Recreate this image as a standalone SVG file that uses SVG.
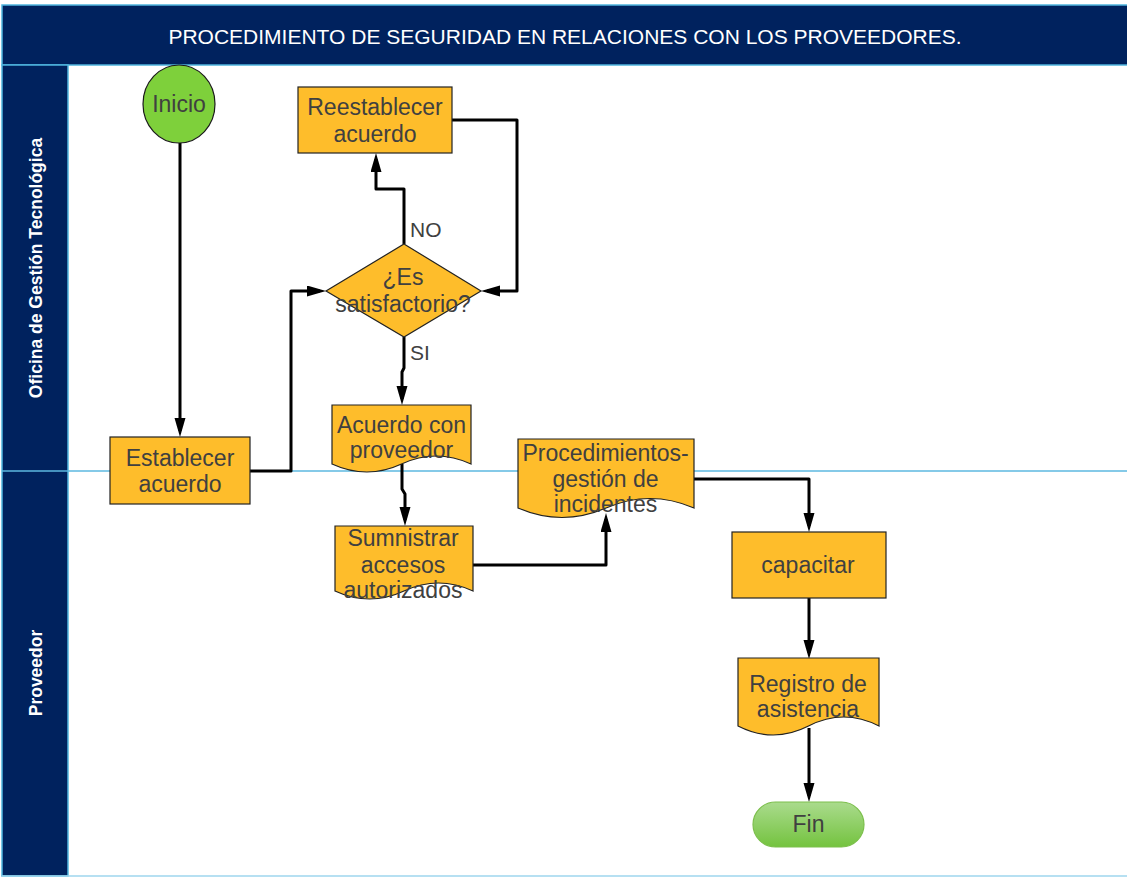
<svg xmlns="http://www.w3.org/2000/svg" width="1127" height="877" viewBox="0 0 1127 877">
  <style>
    .lane-head { fill: #00225E; stroke: #4FB5DE; stroke-width: 1.5; }
    .lane-label { fill: #FFFFFF; font-family: "Liberation Sans", Arial, sans-serif; font-weight: bold; font-size: 17.5px; text-anchor: middle; }
    .title { fill: #FFFFFF; font-family: "Liberation Sans", Arial, sans-serif; font-size: 21px; text-anchor: middle; }
    .proc { fill: #FEBD2B; stroke: #222222; stroke-width: 1.2; }
    .txt { fill: #404040; font-family: "Liberation Sans", Arial, sans-serif; font-size: 23px; text-anchor: middle; }
    .lbl { fill: #404040; font-family: "Liberation Sans", Arial, sans-serif; font-size: 21px; }
    .conn { fill: none; stroke: #000000; stroke-width: 3; stroke-linejoin: round; marker-end: url(#arrow); }
  </style>
  <defs>
    <marker id="arrow" markerUnits="userSpaceOnUse" markerWidth="20" markerHeight="12" refX="13" refY="5.5" orient="auto">
      <path d="M0,0 L19,5.5 L0,11 Z" fill="#000000"/>
    </marker>
    <linearGradient id="finGrad" x1="0" y1="0" x2="0" y2="1">
      <stop offset="0" stop-color="#AADB8D"/>
      <stop offset="1" stop-color="#74C33F"/>
    </linearGradient>
  </defs>

  <!-- pool frame, header and lanes -->
  <g id="pool">
    <rect x="0" y="0" width="1127" height="877" fill="#FFFFFF"/>
    <rect class="lane-head" x="2" y="5" width="1127" height="60"/>
    <text class="title" x="565" y="44">PROCEDIMIENTO DE SEGURIDAD EN RELACIONES CON LOS PROVEEDORES.</text>
    <rect class="lane-head" x="2" y="65" width="66" height="811"/>
    <line x1="2" y1="876" x2="1127" y2="876" stroke="#9ED6EE" stroke-width="1.5"/>
    <line x1="2" y1="471" x2="1127" y2="471" stroke="#5DB9E0" stroke-width="1.5"/>
    <text class="lane-label" transform="translate(42,268) rotate(-90)">Oficina de Gestión Tecnológica</text>
    <text class="lane-label" transform="translate(42,673) rotate(-90)">Proveedor</text>
  </g>

  <!-- connectors -->
  <g id="connectors">
    <path class="conn" d="M180,143 V431"/>
    <path class="conn" d="M250,471 H291 V291 H320"/>
    <path class="conn" d="M404,244 V189 H376 V159"/>
    <path class="conn" d="M452,120 H517 V291 H487"/>
    <path class="conn" d="M404,337 V368 L402,372 V399"/>
    <path class="conn" d="M402,464 V489 L405,494 V520"/>
    <path class="conn" d="M473,565 H606 V519"/>
    <path class="conn" d="M694,479 H809 V526"/>
    <path class="conn" d="M809,598 V653"/>
    <path class="conn" d="M809,728 V796"/>
    <text class="lbl" x="410" y="237">NO</text>
    <text class="lbl" x="410" y="360">SI</text>
  </g>

  <g id="inicio">
    <ellipse cx="179" cy="104" rx="36" ry="39" fill="#7ED03B" stroke="#1A1A1A" stroke-width="1.2"/>
    <text class="txt" x="179" y="112">Inicio</text>
  </g>

  <g id="reestablecer">
    <rect class="proc" x="298" y="87" width="154" height="66"/>
    <text class="txt" x="375" y="115">Reestablecer</text>
    <text class="txt" x="375" y="142">acuerdo</text>
  </g>

  <g id="decision">
    <polygon class="proc" points="404,244 481,291 404,337 326,291"/>
    <text class="txt" x="403" y="285">¿Es</text>
    <text class="txt" x="403" y="312">satisfactorio?</text>
  </g>

  <g id="establecer">
    <rect class="proc" x="110" y="437" width="140" height="67"/>
    <text class="txt" x="180" y="466">Establecer</text>
    <text class="txt" x="180" y="492">acuerdo</text>
  </g>

  <g id="acuerdo-proveedor">
    <path class="proc" d="M332,405 H471 V464 Q436,448 401.5,464 Q367,480 332,464 Z"/>
    <text class="txt" x="401.5" y="433">Acuerdo con</text>
    <text class="txt" x="401.5" y="458">proveedor</text>
  </g>

  <g id="sumnistrar">
    <path class="proc" d="M335,526 H473 V591 Q438.5,575 404,591 Q369.5,607 335,591 Z"/>
    <text class="txt" x="403" y="546">Sumnistrar</text>
    <text class="txt" x="403" y="573">accesos</text>
    <text class="txt" x="403" y="598">autorizados</text>
  </g>

  <g id="procedimientos">
    <path class="proc" d="M518,439 H694 V508 Q650,489 606,508 Q562,527 518,508 Z"/>
    <text class="txt" x="605.5" y="461">Procedimientos-</text>
    <text class="txt" x="605.5" y="487">gestión de</text>
    <text class="txt" x="605.5" y="512">incidentes</text>
  </g>

  <g id="capacitar">
    <rect class="proc" x="732" y="532" width="154" height="66"/>
    <text class="txt" x="808" y="573">capacitar</text>
  </g>

  <g id="registro">
    <path class="proc" d="M738,658 H879 V726 Q843.75,708 808.5,726 Q773.25,744 738,726 Z"/>
    <text class="txt" x="808" y="692">Registro de</text>
    <text class="txt" x="808" y="717">asistencia</text>
  </g>

  <g id="fin">
    <rect x="753" y="802" width="111" height="45" rx="22.5" ry="22.5" fill="url(#finGrad)" stroke="#7CBF4C" stroke-width="1.2"/>
    <text class="txt" x="808.5" y="832">Fin</text>
  </g>
</svg>
